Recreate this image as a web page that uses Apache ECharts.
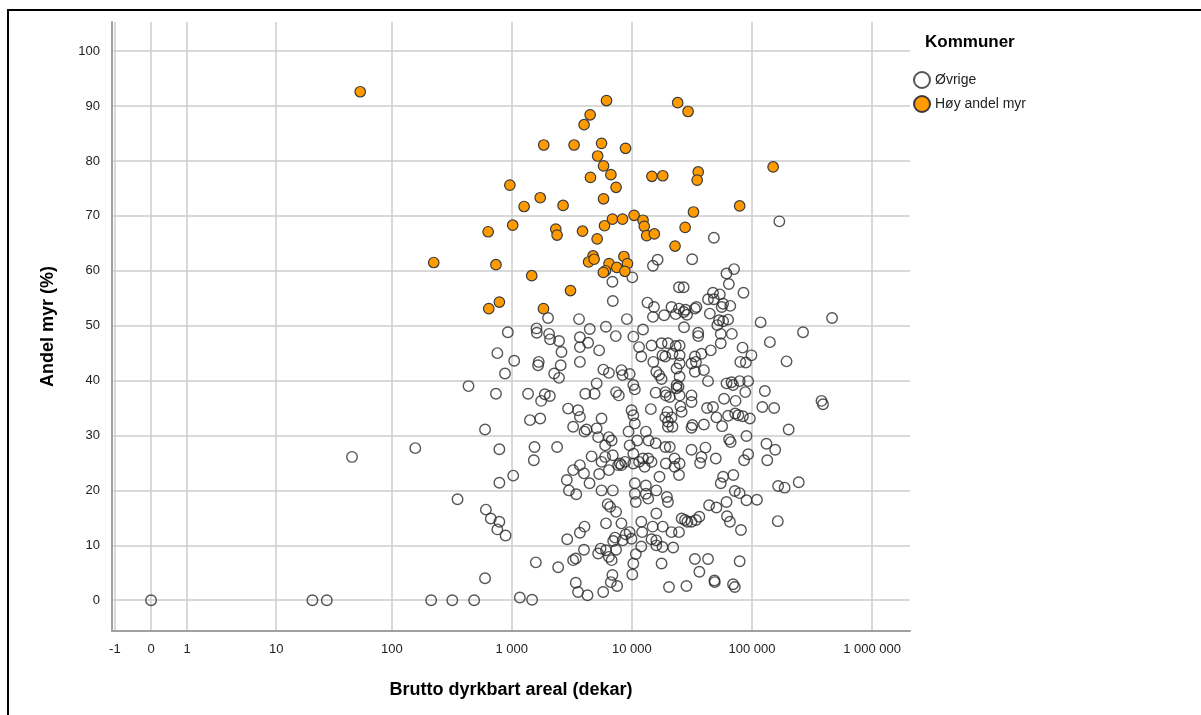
<!DOCTYPE html>
<html>
<head>
<meta charset="utf-8">
<script src="https://cdn.jsdelivr.net/npm/echarts@6/dist/echarts.min.js"></script>
<style>
  html, body { margin: 0; padding: 0; background: #fff; }
  #chart { width: 1201px; height: 715px; }
</style>
</head>
<body>
<div id="chart"></div>
<script>
// tick labels
const xTicks = [-1, 0, 1, 10, 100, 1000, 10000, 100000, 1000000];
const yTicks = [0, 10, 20, 30, 40, 50, 60, 70, 80, 90, 100];

// Høy andel myr: brutto dyrkbart areal (dekar) / andel myr (%)
const hoyAreal = [54, 6160, 24100, 29400, 4500, 4010, 1850, 3310, 5600, 8870,
  5200, 5820, 150000, 35700, 35000, 4530, 6700, 14700, 18100, 7400,
  966, 1730, 1270, 2680, 5820, 79000, 32600, 10450, 12400, 12700,
  13300, 15400, 6900, 8370, 5930, 1020, 637, 2330, 2390, 3890,
  5150, 27800, 22900, 224, 740, 4760, 4370, 4860, 6470, 7500,
  8600, 9200, 8760, 6040, 5800, 1470, 3090, 645, 790, 1840];
const hoyMyr = [92.6, 91.0, 90.6, 89.0, 88.4, 86.6, 82.9, 82.9, 83.2, 82.3,
  80.9, 79.1, 78.9, 78.0, 76.5, 77.0, 77.5, 77.2, 77.3, 75.2,
  75.6, 73.3, 71.7, 71.9, 73.1, 71.8, 70.7, 70.1, 69.2, 68.1,
  66.4, 66.7, 69.4, 69.4, 68.2, 68.3, 67.1, 67.6, 66.5, 67.2,
  65.8, 67.9, 64.5, 61.5, 61.1, 62.7, 61.6, 62.1, 61.3, 60.6,
  62.6, 61.3, 59.9, 60.0, 59.7, 59.1, 56.4, 53.1, 54.3, 53.1];

// Øvrige
const ovrigeAreal = [
  0, 21, 28, 213, 320, 487, 1170, 1480, 3420, 3570, 4280, 5780, 6690, 7550, 20400, 28500, 49000, 69600, 72000,
  760, 437, 740, 600, 157, 46, 790, 354, 610, 670, 790, 760, 890, 790, 600,
  16400, 15000, 31800, 10100, 6900, 24700, 27000, 6950, 13500, 15300, 15000, 18600, 21400, 23200, 24700, 27100,
  28800, 28000, 34500, 9100, 3640, 2010, 930, 1610, 1620, 2050, 2090, 4470, 6090, 12400, 27200,
  169000, 48200, 71000, 61400, 64200, 85000, 47400, 43100, 54000, 48200, 57500, 66000, 56000, 33500, 44600,
  53300, 57500, 63300, 51500, 118000, 464000, 266000, 35700, 35700, 55000, 68000, 141000,
  194000, 83500, 99000, 80000, 89000, 55000, 45400, 38000, 33500, 34200, 31400, 39800, 33500, 43100, 61400,
  67600, 69600, 79000, 93000, 88000, 128000, 31400, 31400, 58600, 73000, 42300, 47400, 122000, 153000, 379000,
  390000, 50600, 63300, 72500, 77000, 84000, 96000, 56500, 39800, 32000, 31400, 202000, 90000, 64500, 66500,
  132000, 156000, 31400, 41000, 50000, 38000, 37000, 93000, 86000, 134000, 57500, 70000, 55000, 165000, 187000,
  245000, 72000, 79000, 90000, 110000, 61400, 44000, 50600, 62000, 65500, 81000, 36500, 34200, 31400, 164000,
  33500, 43100, 79000, 36500, 48700,
  2480, 3700, 3700, 4330, 5350, 7360, 10300, 11500, 14600, 17700, 20000, 23200, 25000, 21800, 18000,
  19000, 15100, 25000, 1050, 1680, 1660, 2600, 2560, 3700, 2260, 2480, 880, 5800, 6450, 8200,
  8370, 9600, 10300, 10600, 12000, 16000, 16900, 17700, 25000, 23600, 25000, 23600, 15800, 19200, 19000,
  20700, 24500, 25000, 23600, 14400, 19800, 19000, 20000, 20000, 21800, 25400, 26000, 21400, 9950, 10300,
  10600, 9400, 11100, 13100, 13800, 15800, 9600, 10300, 8800, 10300, 7950, 7700, 8200, 11500, 12400,
  13700, 14600, 12800, 19000, 20700, 22700, 25000, 22700, 19200, 24700, 17000, 10600, 10600, 10800, 13100,
  13100, 16000, 13700, 16000, 19600, 20000, 12000, 12200, 14900, 18100, 21400, 24700, 26000, 27700, 29000,
  14600, 16000, 16000, 18000, 22100, 12000, 10800, 10300, 17700,
  1370, 1890, 1760, 2080, 1420, 1730, 1030, 1550, 1530, 2390, 1590, 2440, 2900, 3700, 4040,
  4000, 3250, 3420, 5250, 5500, 6100, 6450, 6800, 7400, 6900, 6100, 7250, 7000, 8400, 8900,
  6300, 6600, 7400, 8200, 9600, 9950, 10100, 5600, 6950, 2880, 3000, 3450, 3250, 3700, 4000,
  4450, 5350, 6450, 5600, 6950, 6000, 4630, 5100, 5250, 6450, 6000, 5600, 6800, 3570, 3700,
  3250, 4040, 4200, 2950, 4100, 4900, 5100, 7400, 7800];
const ovrigeMyr = [
  0, 0, 0, 0, 0, 0, 0.5, 0.1, 3.2, 1.5, 0.9, 1.5, 3.3, 2.6, 2.4, 2.6, 3.3, 2.9, 2.4,
  45.0, 39.0, 37.6, 31.1, 27.7, 26.1, 27.5, 18.4, 16.5, 14.9, 14.3, 12.9, 11.8, 21.4, 4.0,
  62.0, 60.9, 62.1, 58.8, 58.0, 57.0, 57.0, 54.5, 54.2, 53.4, 51.6, 51.9, 53.4, 52.1, 53.1, 52.5,
  52.0, 52.9, 53.4, 51.2, 51.2, 51.4, 48.8, 49.5, 48.7, 48.5, 47.5, 49.4, 49.8, 49.3, 49.7,
  69.0, 66.0, 60.3, 59.5, 57.6, 56.0, 56.0, 54.8, 55.7, 54.8, 54.0, 53.6, 53.4, 53.1, 52.2,
  51.0, 50.8, 51.1, 50.1, 50.6, 51.4, 48.8, 48.7, 48.1, 48.5, 48.5, 47.0,
  43.5, 46.0, 44.6, 43.4, 43.3, 46.8, 45.5, 44.9, 44.4, 43.4, 43.1, 41.9, 41.6, 39.9, 39.5,
  39.7, 39.2, 39.9, 39.9, 37.9, 38.1, 37.3, 36.1, 36.7, 36.3, 35.0, 35.2, 35.2, 35.0, 36.3,
  35.7, 33.3, 33.6, 34.0, 33.7, 33.5, 33.1, 31.7, 32.0, 31.9, 31.4, 31.1, 29.9, 29.3, 28.8,
  28.5, 27.4, 27.4, 27.8, 25.8, 26.1, 25.0, 26.6, 25.5, 25.5, 22.5, 22.8, 21.3, 20.8, 20.5,
  21.5, 19.9, 19.5, 18.2, 18.3, 17.9, 17.3, 16.9, 15.3, 14.3, 12.8, 15.2, 14.6, 14.3, 14.4,
  7.5, 7.5, 7.1, 5.2, 3.6,
  47.2, 47.9, 46.1, 46.9, 45.5, 48.1, 48.0, 46.1, 46.4, 46.8, 46.8, 46.3, 46.4, 44.9, 44.6,
  44.4, 43.4, 44.6, 43.6, 43.4, 42.8, 45.2, 42.8, 43.4, 41.3, 40.5, 41.3, 42.0, 41.4, 41.9,
  41.0, 41.2, 39.2, 38.4, 44.4, 41.6, 41.0, 40.3, 43.1, 42.2, 40.7, 39.2, 37.8, 37.3, 37.9,
  37.0, 38.9, 37.3, 38.6, 34.8, 34.3, 33.3, 32.5, 31.6, 31.6, 35.3, 34.3, 33.3, 34.6, 33.7,
  32.2, 30.7, 29.1, 30.7, 29.1, 28.6, 28.2, 26.7, 25.2, 24.9, 24.9, 24.6, 24.6, 25.2, 25.8,
  25.8, 25.2, 24.3, 27.9, 27.9, 25.8, 24.9, 24.3, 24.9, 22.8, 22.5, 21.3, 19.4, 17.9, 20.9,
  19.4, 20.0, 18.5, 15.8, 18.8, 17.9, 14.3, 12.4, 13.4, 13.4, 12.4, 12.4, 14.9, 14.6, 14.3,
  11.1, 10.9, 10.0, 9.7, 9.6, 9.8, 8.4, 6.7, 6.7,
  37.6, 37.5, 36.3, 37.2, 32.8, 33.1, 22.7, 27.9, 25.5, 27.9, 6.9, 6.0, 11.1, 12.3, 13.4,
  9.2, 7.3, 7.6, 8.5, 9.4, 9.1, 7.9, 7.3, 9.2, 4.6, 14.0, 11.4, 10.8, 10.9, 12.0,
  17.5, 17.0, 16.1, 14.0, 12.4, 11.2, 4.7, 20.0, 20.0, 21.9, 20.0, 19.3, 23.7, 24.6, 23.1,
  21.3, 23.0, 23.7, 25.2, 26.4, 26.1, 26.2, 31.3, 29.7, 29.7, 28.2, 33.1, 29.1, 34.6, 33.4,
  31.6, 30.7, 31.1, 34.9, 37.6, 37.6, 39.5, 37.9, 37.3];

// sikker log-skala: sign(x) * log10(1 + |x|)
function slog(v) {
  return Math.sign(v) * Math.log10(1 + Math.abs(v));
}

function fmtTick(v) {
  return String(v).replace(/\B(?=(\d{3})+(?!\d))/g, ' ');
}

function toPoints(xs, ys) {
  return xs.map((x, i) => [slog(x), ys[i]]);
}

const FONT = 'Liberation Sans, Arial, sans-serif';

const chart = echarts.init(document.getElementById('chart'));

const option = {
  animation: false,
  backgroundColor: '#fff',
  grid: { left: 112, right: 291, top: 22, bottom: 84 },
  xAxis: {
    type: 'value',
    min: -0.325,
    max: 6.315,
    name: 'Brutto dyrkbart areal (dekar)',
    nameLocation: 'middle',
    nameGap: 50,
    nameTextStyle: { fontSize: 18, fontWeight: 'bold', color: '#000', fontFamily: FONT },
    axisLine: { show: true, onZero: false, lineStyle: { color: '#a0a0a0', width: 2 } },
    axisTick: { show: false, customValues: xTicks.map(slog) },
    axisLabel: {
      customValues: xTicks.map(slog),
      color: '#222',
      fontSize: 13,
      fontFamily: FONT,
      margin: 12,
      formatter: function (val) {
        const t = xTicks.find(k => Math.abs(slog(k) - val) < 1e-6);
        return t === undefined ? '' : fmtTick(t);
      }
    },
    splitLine: { show: true, lineStyle: { color: '#cccccc', width: 1.5 } }
  },
  yAxis: {
    type: 'value',
    min: -5.6,
    max: 105.3,
    name: 'Andel myr (%)',
    nameLocation: 'middle',
    nameGap: 55,
    nameTextStyle: { fontSize: 18, fontWeight: 'bold', color: '#000', fontFamily: FONT },
    axisLine: { show: true, onZero: false, lineStyle: { color: '#a0a0a0', width: 2 } },
    axisTick: { show: false, customValues: yTicks },
    axisLabel: { customValues: yTicks, color: '#222', fontSize: 13, fontFamily: FONT, margin: 12 },
    splitLine: { show: true, lineStyle: { color: '#cccccc', width: 1.5 } }
  },
  legend: {
    orient: 'vertical',
    left: 908,
    top: 66,
    itemWidth: 16,
    itemHeight: 16,
    itemGap: 6,
    icon: 'circle',
    textStyle: { fontSize: 14, color: '#222', fontFamily: FONT },
    data: ['Øvrige', 'Høy andel myr']
  },
  graphic: [
    {
      type: 'rect',
      shape: { x: 8, y: 10, width: 1400, height: 900 },
      style: { fill: 'none', stroke: '#000', lineWidth: 2 },
      silent: true
    },
    {
      type: 'text',
      left: 925,
      top: 34,
      style: { text: 'Kommuner', fontSize: 17, fontWeight: 'bold', fill: '#000', fontFamily: FONT }
    }
  ],
  series: [
    {
      name: 'Øvrige',
      type: 'scatter',
      symbol: 'circle',
      symbolSize: 10.5,
      itemStyle: { color: 'rgba(255,255,255,0)', borderColor: '#2a2a2a', borderWidth: 1.4 },
      data: toPoints(ovrigeAreal, ovrigeMyr)
    },
    {
      name: 'Høy andel myr',
      type: 'scatter',
      symbol: 'circle',
      symbolSize: 10.5,
      itemStyle: { color: '#ff9a00', borderColor: '#3a3a3a', borderWidth: 1.2, opacity: 1 },
      data: toPoints(hoyAreal, hoyMyr)
    }
  ]
};

chart.setOption(option);
</script>
</body>
</html>
